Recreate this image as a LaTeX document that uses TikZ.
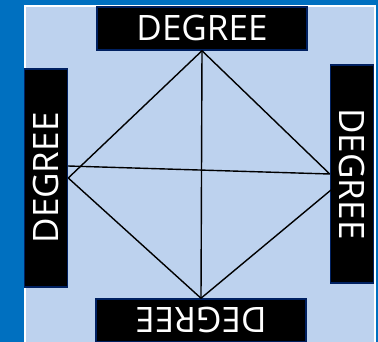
\documentclass[tikz,border=0pt]{standalone}
\usepackage{fontspec}
\setmainfont{Open Sans}
\usepackage{graphicx}
\usetikzlibrary{positioning}
\definecolor{slideblue}{RGB}{0,112,192}
\definecolor{paleblue}{RGB}{189,210,238}
\definecolor{navyline}{RGB}{0,32,96}

\begin{document}
\begin{tikzpicture}[x=1pt, y=-1pt,
  hbox/.style={draw=navyline, line width=1.5pt, fill=black, text=white,
               minimum width=210pt, minimum height=43pt, inner sep=0pt,
               font=\fontsize{35}{35}\selectfont},
  vbox/.style={draw=navyline, line width=1.5pt, fill=black, text=white,
               minimum width=43pt, minimum height=218pt, inner sep=0pt,
               font=\fontsize{35}{35}\selectfont},
  edge/.style={line width=1.4pt, black}
]
\useasboundingbox (0,0) rectangle (378,342);
% slide background
\fill[slideblue] (0,0) rectangle (378,342);
\fill[white] (24,5) rectangle (376,342);
\fill[paleblue] (26,7) rectangle (374,342);
% degree boxes
\node[hbox] (top) at (202,28.5) {DEGREE};
\node[hbox] (bot) at (201,320.5) {\rotatebox{180}{DEGREE}};
\node[vbox] (lft) at (46,178) {\rotatebox{90}{DEGREE}};
\node[vbox] (rgt) at (352,174) {\rotatebox{-90}{DEGREE}};
% extra attachment points
\coordinate (lh) at (68,166);
\coordinate (rl) at (331,190);
% connections
\draw[edge] (top.south) -- (bot.north);
\draw[edge] (top.south) -- (lft.east);
\draw[edge] (top.south) -- (rgt.west);
\draw[edge] (lft.east) -- (bot.north);
\draw[edge] (bot.north) -- (rl);
\draw[edge] (lh) -- (rgt.west);
\end{tikzpicture}
\end{document}
